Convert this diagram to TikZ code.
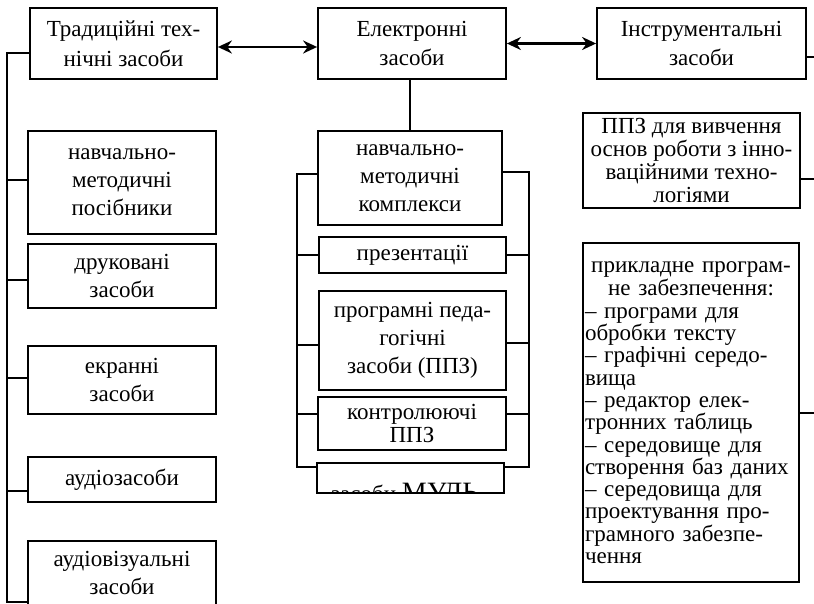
\documentclass[tikz,border=0pt]{standalone}
\usepackage{fontspec}
\setmainfont{Liberation Serif}
\usetikzlibrary{arrows.meta}
\begin{document}
\begin{tikzpicture}[x=1pt,y=-1pt,
  box/.style={draw, line width=1.8pt, inner sep=1pt, align=center,
    font=\fontsize{23}{28}\selectfont},
  headbox/.style={box, font=\fontsize{23}{29.5}\selectfont},
  tightbox/.style={box, font=\fontsize{23}{22.5}\selectfont},
  wire/.style={line width=1.8pt},
  link/.style={line width=2.2pt, {Stealth[length=14pt,width=13pt]}-{Stealth[length=14pt,width=13pt]}},
]
\useasboundingbox (0,0) rectangle (814,604);
\clip (0,0) rectangle (814,604);

% top row
\node[headbox, minimum width=187pt, minimum height=71pt] (trad) at (123.5,43.5) {Традиційні тех-\\нічні засоби};
\node[headbox, minimum width=188pt, minimum height=71pt] (elec) at (412,43.5) {Електронні\\засоби};
\node[headbox, minimum width=209pt, minimum height=71pt] (instr) at (701.5,43.5) {Інструментальні\\засоби};

\draw[link] ([yshift=-3.5pt]trad.east) -- ([yshift=-3.5pt]elec.west);
\draw[link] (elec.east) -- (instr.west);

% traditional means, left column
\node[box, minimum width=188pt, minimum height=103pt] (posib) at (122,182.5) {навчально-\\методичні\\посібники};
\node[box, minimum width=188pt, minimum height=64pt] (druk) at (122,276) {друковані\\засоби};
\node[box, minimum width=188pt, minimum height=68pt] (ekran) at (122,380) {екранні\\засоби};
\node[box, minimum width=188pt, minimum height=45pt] (audio) at (122,479.5) {аудіозасоби};
\node[box, minimum width=188pt, minimum height=64pt] (audvis) at (122,573) {аудіовізуальні\\засоби};

\coordinate (trunkTop) at (7,53);
\coordinate (trunkBot) at (7,602);
\draw[wire] ([yshift=-9.5pt]trad.west) -- (trunkTop) -- (trunkBot) -- (trunkBot -| audvis.west);
\draw[wire] ([yshift=2.5pt]posib.west) coordinate (p1) -- (p1 -| trunkTop);
\draw[wire] ([yshift=-4pt]druk.west) coordinate (p2) -- (p2 -| trunkTop);
\draw[wire] ([yshift=2pt]ekran.west) coordinate (p3) -- (p3 -| trunkTop);
\draw[wire] ([yshift=-11.5pt]audio.west) coordinate (p4) -- (p4 -| trunkTop);

% electronic means, middle column
\node[box, minimum width=184pt, minimum height=94pt] (kompl) at (410,178) {навчально-\\методичні\\комплекси};
\node[box, minimum width=187pt, minimum height=36pt] (prez) at (412.5,255) {презентації};
\node[box, minimum width=187pt, minimum height=99pt] (ppz) at (412.5,340.5) {програмні педа-\\гогічні\\засоби (ППЗ)};
\node[tightbox, minimum width=188pt, minimum height=53pt] (kontr) at (412,423.5) {контролюючі\\ППЗ};
% last box: its text is cut off by the box's lower edge
\node[minimum width=187pt, minimum height=30pt, inner sep=0pt] (multi) at (410.5,478) {};
\begin{scope}
  \clip (multi.south west) rectangle (multi.north east);
  \node[anchor=base, inner sep=0pt] at (409.5,501) {\fontsize{23}{28}\selectfont засоби \fontsize{28}{30}\selectfont МУЛЬ-};
\end{scope}
\draw[line width=1.8pt] (multi.south west) rectangle (multi.north east);

\draw[wire] (kompl.north) -- (kompl.north |- elec.south);

\coordinate (railLtop) at (297,174);
\coordinate (railLbot) at (297,467);
\coordinate (railRtop) at (529,172);
\coordinate (railRbot) at (529,467);
\draw[wire] ([yshift=4pt]kompl.west) -- (railLtop) -- (railLbot) -- (railLbot -| multi.west);
\draw[wire] ([yshift=6pt]kompl.east) -- (railRtop) -- (railRbot) -- (railRbot -| multi.east);
\draw[wire] (prez.west) -- (prez.west -| railLtop);
\draw[wire] (prez.east) -- (prez.east -| railRtop);
\draw[wire] ([yshift=-4.5pt]ppz.west) coordinate (q1) -- (q1 -| railLtop);
\draw[wire] ([yshift=-2.5pt]ppz.east) coordinate (q2) -- (q2 -| railRtop);
\draw[wire] ([yshift=9.5pt]kontr.west) coordinate (q3) -- (q3 -| railLtop);
\draw[wire] ([yshift=9.5pt]kontr.east) coordinate (q4) -- (q4 -| railRtop);

% instrumental means, right column
\node[tightbox, minimum width=217pt, minimum height=95pt, font=\fontsize{23}{22.7}\selectfont] (innov) at (691.5,160.5) {ППЗ для вивчення\\основ роботи з інно-\\ваційними техно-\\логіями};
\node[box, minimum width=216pt, minimum height=339pt, text width=212pt, align=left, inner sep=2pt,
  font=\fontsize{23}{22.3}\selectfont] (prikl) at (691,412.5)
  {\makebox[212pt]{прикладне програм-}\\[1.5pt]
   \makebox[212pt]{не забезпечення:}\\
   – програми для\\
   обробки тексту\\
   – графічні середо-\\
   вища\\
   – редактор елек-\\
   тронних таблиць\\
   – середовище для\\
   створення баз даних\\
   – середовища для\\
   проектування про-\\
   грамного забезпе-\\
   чення};

\coordinate (rightEdge) at (814,0);
\draw[wire] ([yshift=-13.5pt]instr.east) coordinate (r1) -- (r1 -| rightEdge);
\draw[wire] ([yshift=-18.5pt]innov.east) coordinate (r2) -- (r2 -| rightEdge);
\draw[wire] ([yshift=-0.5pt]prikl.east) coordinate (r3) -- (r3 -| rightEdge);
\end{tikzpicture}
\end{document}
